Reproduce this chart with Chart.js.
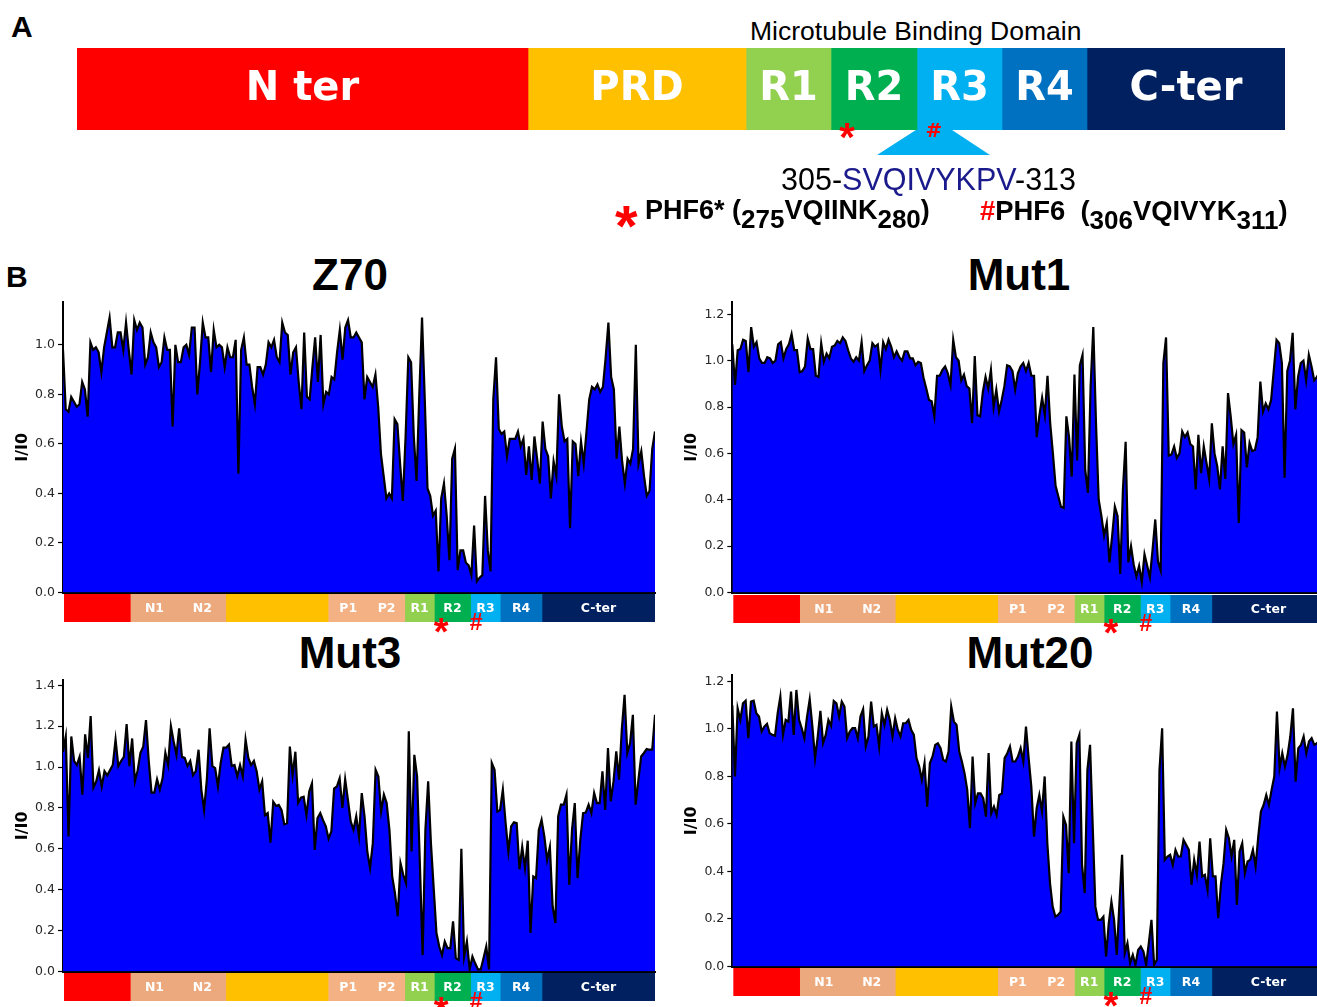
<!DOCTYPE html>
<html>
<head>
<meta charset="utf-8">
<title>Tau NMR intensity profiles</title>
<script src="https://cdn.jsdelivr.net/npm/chart.js@4.4.1/dist/chart.umd.min.js"></script>
<style>
  html, body { margin: 0; padding: 0; overflow: hidden; background: #fff; }
  #page { position: relative; width: 1317px; height: 1007px; overflow: hidden;
          font-family: "Liberation Sans", Arial, sans-serif; color: #000; }
  #page canvas { position: absolute; }
  .txt { position: absolute; white-space: nowrap; line-height: 1; }
  .panel { font-weight: bold; font-size: 30px; }
  .title { font-weight: bold; font-size: 44px; transform: translateX(-50%); }
  .sub { position: relative; top: 9px; font-size: 26px; }
</style>
</head>
<body>
<div id="page">
  <div class="txt panel" style="left:11px;top:12px">A</div>
  <div class="txt" style="left:750px;top:18px;font-size:26.5px">Microtubule Binding Domain</div>
  <canvas id="domainA" width="1208" height="125" style="left:77px;top:48px"></canvas>
  <div class="txt" style="left:781px;top:164px;font-size:30.5px">305-<span style="color:#1a1a8c">SVQIVYKPV</span>-313</div>
  <div class="txt" style="left:615px;top:197px;font-size:58px;font-weight:bold;color:#f00">*</div>
  <div class="txt" style="left:645px;top:197px;font-size:27px;font-weight:bold">PHF6* (<span class="sub">275</span>VQIINK<span class="sub">280</span>)</div>
  <div class="txt" style="left:980px;top:197px;font-size:27.4px;font-weight:bold"><span style="color:#f00">#</span>PHF6&nbsp; (<span class="sub">306</span>VQIVYK<span class="sub">311</span>)</div>

  <div class="txt panel" style="left:6px;top:262px">B</div>
  <div class="txt title" style="left:350px;top:253px">Z70</div>
  <div class="txt title" style="left:1019px;top:253px">Mut1</div>
  <div class="txt title" style="left:350px;top:631px">Mut3</div>
  <div class="txt title" style="left:1030px;top:631px">Mut20</div>

  <canvas id="z70" width="670" height="313" style="left:0px;top:290px"></canvas>
  <canvas id="z70Strip" width="670" height="44" style="left:0px;top:594px"></canvas>
  <canvas id="mut1" width="670" height="313" style="left:670px;top:290px"></canvas>
  <canvas id="mut1Strip" width="670" height="44" style="left:670px;top:595px"></canvas>
  <canvas id="mut3" width="670" height="314" style="left:0px;top:668px"></canvas>
  <canvas id="mut3Strip" width="670" height="44" style="left:0px;top:973px"></canvas>
  <canvas id="mut20" width="670" height="314" style="left:670px;top:663px"></canvas>
  <canvas id="mut20Strip" width="670" height="44" style="left:670px;top:968px"></canvas>
</div>
<script>
// ---- panel A: schematic of tau domains ----
const aDomains = ['N ter', 'PRD', 'R1', 'R2', 'R3', 'R4', 'C-ter'];
const aWidths = [451, 218, 85, 86, 85, 85, 198];
const aColors = ['#FF0000', '#FFC000', '#92D050', '#00B050', '#00B0F0', '#0070C0', '#002060'];

// ---- panel B: domain strip under each profile (residue ranges) ----
const dNames = ['', 'N1', 'N2', '', 'P1', 'P2', 'R1', 'R2', 'R3', 'R4', 'C-ter'];
const dStart = [2, 51, 87, 122, 198, 228, 255, 277, 304, 326, 357];
const dEnd = [51, 87, 122, 198, 228, 255, 277, 304, 326, 357, 441];
const dColors = ['#FF0000', '#EDA97E', '#EDA97E', '#FFC000', '#F4B183', '#F4B183',
                 '#92D050', '#00B050', '#00B0F0', '#0070C0', '#002060'];
const motifSymbols = ['*', '#'];
const motifResidues = [282, 308];

// ---- I/I0 profiles ----
const z70Values = [
  0.98, 0.74, 0.73, 0.79, 0.77, 0.75, 0.76, 0.85, 0.82, 0.71,
  1.01, 0.98, 0.99, 0.97, 0.89, 0.99, 1.05, 1.11, 0.99, 0.99,
  1.05, 1.05, 0.98, 1.09, 0.98, 0.88, 1.10, 1.06, 1.09, 1.07,
  0.92, 0.95, 1.05, 1.01, 0.99, 0.91, 0.93, 1.03, 0.98, 0.98,
  0.67, 1.00, 0.93, 0.93, 0.99, 1.00, 0.96, 1.07, 1.07, 0.80,
  0.93, 1.09, 1.03, 1.03, 0.89, 1.06, 0.99, 1.00, 0.99, 0.91,
  0.99, 0.95, 0.95, 1.02, 0.48, 0.98, 1.03, 0.92, 0.92, 0.83,
  0.76, 0.91, 0.91, 0.88, 0.92, 1.01, 0.99, 1.02, 0.95, 0.93,
  1.09, 1.05, 1.04, 0.88, 0.97, 0.99, 0.85, 0.74, 1.05, 0.79,
  0.78, 0.91, 1.03, 0.85, 1.04, 0.76, 0.81, 0.80, 0.87, 0.86,
  0.97, 1.06, 0.94, 1.07, 1.10, 1.03, 1.03, 1.05,
  1.03, 1.01, 0.78, 0.87, 0.85, 0.83, 0.88, 0.75, 0.56, 0.47,
  0.38, 0.40, 0.38, 0.70, 0.68, 0.52, 0.37, 0.63, 0.95, 0.93,
  0.63, 0.45, 0.80, 1.11, 0.78, 0.42, 0.39, 0.31, 0.33, 0.085,
  0.38, 0.44, 0.31, 0.13, 0.54, 0.58, 0.09, 0.17, 0.17, 0.12,
  0.11, 0.07, 0.27, 0.045, 0.06, 0.07, 0.39, 0.17, 0.085, 0.78,
  0.95, 0.66, 0.64, 0.65, 0.55, 0.62, 0.62, 0.62, 0.65, 0.59,
  0.62, 0.475, 0.59, 0.455, 0.63, 0.54, 0.44, 0.69, 0.58, 0.55,
  0.38, 0.53, 0.47, 0.80, 0.67, 0.61, 0.62, 0.26, 0.61, 0.60,
  0.47, 0.61, 0.52, 0.65, 0.78, 0.83, 0.82, 0.84, 0.81, 0.83,
  0.95, 1.09, 0.87, 0.82, 0.54, 0.67, 0.53, 0.44, 0.54, 0.52,
  0.58, 1.00, 0.52, 0.57, 0.47, 0.39, 0.41, 0.58, 0.65
];

const mut1Values = [
  1.07, 0.895, 1.045, 1.05, 1.09, 1.085, 0.95, 1.145, 1.06, 1.08,
  1.01, 0.99, 0.99, 1.015, 1.01, 0.99, 1.0, 1.07, 1.08, 1.01,
  1.05, 1.07, 1.115, 1.045, 1.045, 0.95, 0.955, 0.975, 1.095, 1.05,
  1.05, 0.935, 0.93, 1.075, 0.995, 1.03, 1.01, 1.06, 1.065, 1.085,
  1.075, 1.10, 1.085, 1.045, 1.01, 0.995, 1.015, 1.0, 1.08, 0.955,
  0.98, 1.0, 1.075, 1.06, 1.07, 0.96, 1.08, 1.05, 1.09, 1.06,
  1.015, 1.04, 1.015, 1.0, 1.04, 1.04, 1.01, 1.01, 0.98, 0.995,
  0.99, 0.925, 0.88, 0.83, 0.825, 0.76, 0.935, 0.935, 0.96, 0.975,
  0.945, 0.895, 1.09, 1.015, 1.0, 0.915, 0.94, 0.89, 0.88, 0.73,
  1.02, 0.765, 0.76, 0.865, 0.93, 0.88, 0.96, 0.80, 0.875, 0.78,
  0.83, 0.89, 0.98, 0.975,
  0.955, 0.875, 0.945, 0.975, 0.99, 0.955, 0.99, 0.935, 0.935, 0.67,
  0.765, 0.84, 0.765, 0.935, 0.73, 0.60, 0.46, 0.415, 0.37, 0.365,
  0.76, 0.67, 0.50, 0.94, 0.57, 0.98, 1.025, 0.53, 0.43, 0.89,
  1.145, 0.73, 0.40, 0.33, 0.245, 0.30, 0.13, 0.245, 0.37, 0.33,
  0.08, 0.445, 0.65, 0.13, 0.20, 0.12, 0.07, 0.115, 0.045, 0.165,
  0.115, 0.065, 0.185, 0.315, 0.135, 0.095, 0.99, 1.10, 0.59, 0.595,
  0.63, 0.58, 0.60, 0.695, 0.67, 0.69, 0.64, 0.63, 0.445, 0.68,
  0.515, 0.63, 0.56, 0.49, 0.73, 0.60, 0.545, 0.445, 0.63, 0.49,
  0.86, 0.76, 0.64, 0.68, 0.30, 0.70, 0.69, 0.54, 0.645, 0.61,
  0.615, 0.67, 0.91, 0.78, 0.815, 0.79, 0.83, 0.96, 1.09, 1.075,
  0.99, 0.495, 0.955, 1.0, 1.12, 0.79, 0.93, 0.99, 1.0, 0.915,
  1.025, 0.975, 0.915, 0.93, 0.95, 0.97, 0.94
];

const mut3Values = [
  1.075, 1.15, 0.66, 1.15, 1.03, 1.01, 1.05, 0.865, 1.16, 1.045,
  1.25, 0.90, 0.93, 0.985, 0.905, 0.98, 0.96, 0.985, 1.01, 1.135,
  1.005, 1.03, 1.05, 1.21, 1.005, 1.14, 0.93, 0.985, 1.07, 1.10,
  1.23, 1.03, 0.875, 0.875, 0.94, 0.89, 0.945, 1.07, 1.01, 1.20,
  1.125, 1.06, 1.19, 1.05, 1.045, 1.005, 1.03, 0.96, 0.98, 1.085,
  0.89, 0.79, 0.94, 1.19, 1.005, 0.995, 0.905, 1.02, 1.095, 1.095,
  1.11, 1.005, 1.01, 0.955, 1.01, 0.955, 1.135, 1.045, 1.01, 1.03,
  0.98, 0.89, 0.93, 0.765, 0.775, 0.63, 0.83, 0.81, 0.815, 0.79,
  0.72, 0.725, 1.10, 0.96, 1.075, 0.825, 0.85, 0.855, 0.765, 0.88,
  0.92, 0.595, 0.75, 0.775, 0.74, 0.71, 0.65, 0.685, 0.895, 0.905,
  0.945, 0.80, 0.94,
  0.84, 0.734, 0.693, 0.759, 0.661, 0.873, 0.759, 0.587, 0.506, 0.628,
  0.987, 0.954, 0.783, 0.865, 0.824, 0.693, 0.465, 0.383, 0.27, 0.53,
  0.473, 0.432, 1.175, 0.587, 1.06, 0.954, 0.53, 0.08, 0.693, 0.93,
  0.628, 0.408, 0.188, 0.122, 0.08, 0.147, 0.114, 0.114, 0.245, 0.065,
  0.057, 0.60, 0.073, 0.147, 0.01, 0.073, 0.04, 0.01, 0.01, 0.065,
  0.122, 0.01, 1.02, 0.987, 0.783, 0.79, 0.89, 0.726, 0.587, 0.71,
  0.73, 0.726, 0.50, 0.61, 0.506, 0.64, 0.188, 0.465, 0.457, 0.693,
  0.742, 0.661, 0.546, 0.61, 0.318, 0.237, 0.759, 0.816, 0.816, 0.865,
  0.424, 0.693, 0.824, 0.457, 0.644, 0.775, 0.778, 0.816, 0.775, 0.873,
  0.824, 0.824, 0.979, 0.79, 1.093, 0.832, 0.93, 1.077, 0.938, 1.183,
  1.354, 1.069, 1.117, 1.256, 0.816, 0.938, 1.052, 1.069, 1.088, 1.085,
  1.085, 1.256
];

const mut20Values = [
  1.10, 0.80, 1.087, 1.038, 1.108, 1.119, 0.961, 1.115, 1.119, 1.066,
  1.052, 0.989, 1.01, 1.021, 0.982, 0.975, 0.971, 1.066, 1.136, 0.975,
  1.038, 1.031, 1.157, 0.975, 1.164, 1.038, 1.003, 0.961, 1.052, 1.125,
  1.01, 0.877, 0.968, 1.076, 0.94, 0.975, 1.038, 1.013, 1.118, 1.108,
  1.052, 1.115, 1.094, 0.961, 0.989, 1.003, 1.003, 0.961, 1.052, 1.083,
  0.926, 0.968, 1.115, 1.01, 1.017, 0.926, 1.066, 1.017, 1.08, 1.038,
  0.968, 1.045, 0.996, 0.968, 1.024, 1.024, 1.038, 0.996, 0.975, 0.877,
  0.842, 0.785, 0.856, 0.673, 0.856, 0.884, 0.933, 0.94, 0.919, 0.87,
  0.863, 0.905, 1.094, 1.031, 1.017, 0.905, 0.863, 0.813, 0.743, 0.582,
  0.884, 0.687, 0.729, 0.729, 0.708, 0.631, 0.898, 0.645, 0.673, 0.638,
  0.722, 0.729, 0.877,
  0.898, 0.926, 0.863, 0.863, 0.884, 0.919, 0.863, 1.01, 0.877, 0.757,
  0.547, 0.666, 0.722, 0.652, 0.80, 0.519, 0.351, 0.252, 0.21, 0.217,
  0.231, 0.631, 0.596, 0.393, 0.947, 0.519, 0.94, 0.975, 0.428, 0.309,
  0.827, 0.933, 0.589, 0.252, 0.196, 0.196, 0.21, 0.042, 0.182, 0.273,
  0.196, 0.049, 0.266, 0.47, 0.056, 0.098, 0.014, 0.049, 0.007, 0.07,
  0.084, 0.063, 0.007, 0.098, 0.196, 0.007, 0.028, 0.827, 1.003, 0.449,
  0.463, 0.47, 0.428, 0.491, 0.463, 0.463, 0.533, 0.512, 0.491, 0.344,
  0.449, 0.386, 0.526, 0.379, 0.386, 0.323, 0.54, 0.379, 0.379, 0.203,
  0.344, 0.435, 0.575, 0.54, 0.463, 0.533, 0.259, 0.484, 0.519, 0.393,
  0.442, 0.449, 0.491, 0.421, 0.547, 0.652, 0.68, 0.722, 0.68, 0.743,
  0.80, 1.073, 0.835, 0.898, 0.842, 0.891, 0.968, 1.087, 0.778, 0.919,
  0.933, 0.968, 0.898, 0.947, 0.961, 0.933, 0.94, 0.95, 0.93, 0.96
];

const RES_FIRST = 1, RES_LAST = 441;

Chart.defaults.font.family = '"DejaVu Sans", sans-serif';

// white text centred in each bar segment
const segmentLabels = {
  id: 'segmentLabels',
  afterDatasetsDraw(chart, args, opts) {
    const ctx = chart.ctx;
    ctx.save();
    ctx.font = opts.font;
    ctx.fillStyle = '#fff';
    ctx.textAlign = 'center';
    ctx.textBaseline = 'alphabetic';
    chart.data.datasets.forEach((ds, i) => {
      if (!ds.label) return;
      const bar = chart.getDatasetMeta(i).data[0];
      ctx.fillText(ds.label, (bar.x + bar.base) / 2, bar.y + opts.shift);
    });
    ctx.restore();
  }
};

function drawMark(ctx, s, x, cy, font) {
  ctx.font = font;
  const m = ctx.measureText(s);
  ctx.fillText(s, x, cy + (m.actualBoundingBoxAscent - m.actualBoundingBoxDescent) / 2);
}

// red * / # under the R2 / R3 repeats in the strips
const motifMarks = {
  id: 'motifMarks',
  afterDatasetsDraw(chart) {
    const ctx = chart.ctx, xs = chart.scales.x, bottom = chart.chartArea.bottom;
    ctx.save();
    ctx.fillStyle = '#FF0000';
    ctx.textAlign = 'center';
    motifSymbols.forEach((s, i) => {
      const x = xs.getPixelForValue(motifResidues[i]);
      if (s === '*') drawMark(ctx, s, x, bottom + 3, 'bold 38px "Liberation Sans"');
      else drawMark(ctx, s, x, bottom - 0.5, 'bold 23px "Liberation Sans"');
    });
    ctx.restore();
  }
};

// triangle below R3 and motif marks of panel A
const schematicExtras = {
  id: 'schematicExtras',
  beforeDatasetsDraw(chart) {
    const ctx = chart.ctx;
    const r3 = chart.getDatasetMeta(aDomains.indexOf('R3')).data[0];
    const b = chart.chartArea.bottom;
    ctx.save();
    ctx.fillStyle = '#00B0F0';
    ctx.beginPath();
    ctx.moveTo(r3.base + 2, b - 2);
    ctx.lineTo(r3.base + 32, b - 2);
    ctx.lineTo(r3.base + 73, b + 25);
    ctx.lineTo(r3.base - 40, b + 25);
    ctx.closePath();
    ctx.fill();
    ctx.restore();
  },
  afterDatasetsDraw(chart) {
    const ctx = chart.ctx;
    const r2 = chart.getDatasetMeta(aDomains.indexOf('R2')).data[0];
    const r3 = chart.getDatasetMeta(aDomains.indexOf('R3')).data[0];
    const b = chart.chartArea.bottom;
    ctx.save();
    ctx.fillStyle = '#FF0000';
    ctx.textAlign = 'center';
    drawMark(ctx, '*', r2.base + 16, b + 1, 'bold 40px "Liberation Sans"');
    drawMark(ctx, '#', r3.base + 17, b, 'bold 20px "DejaVu Sans"');
    ctx.restore();
  }
};

new Chart(document.getElementById('domainA'), {
  type: 'bar',
  data: {
    labels: ['tau'],
    datasets: aDomains.map((name, i) => ({
      label: name,
      data: [aWidths[i]],
      backgroundColor: aColors[i],
      barPercentage: 1,
      categoryPercentage: 1
    }))
  },
  options: {
    indexAxis: 'y',
    responsive: false,
    animation: false,
    events: [],
    layout: { padding: { left: 0, right: 0, top: 0, bottom: 43 } },
    plugins: {
      legend: { display: false },
      tooltip: { enabled: false },
      segmentLabels: { font: 'bold 40px "DejaVu Sans"', shift: 11 }
    },
    scales: {
      x: { stacked: true, display: false, min: 0, max: aWidths.reduce((a, b) => a + b, 0) },
      y: { stacked: true, display: false }
    }
  },
  plugins: [segmentLabels, schematicExtras]
});

function makeStrip(id, axisWidth) {
  new Chart(document.getElementById(id), {
    type: 'bar',
    data: {
      labels: ['domains'],
      datasets: dNames.map((name, i) => ({
        label: name,
        data: [[dStart[i], dEnd[i]]],
        backgroundColor: dColors[i],
        barPercentage: 1,
        categoryPercentage: 1,
        grouped: false
      }))
    },
    options: {
      indexAxis: 'y',
      responsive: false,
      animation: false,
      events: [],
      layout: { padding: { left: axisWidth, right: 15, top: 0, bottom: 16 } },
      plugins: {
        legend: { display: false },
        tooltip: { enabled: false },
        segmentLabels: { font: 'bold 12.5px "DejaVu Sans"', shift: 3.5 }
      },
      scales: {
        x: { type: 'linear', min: RES_FIRST, max: RES_LAST, display: false },
        y: { display: false }
      }
    },
    plugins: [segmentLabels, motifMarks]
  });
}

function makeProfile(id, values, yMax, axisWidth, titlePad) {
  const step = (RES_LAST - RES_FIRST) / (values.length - 1);
  new Chart(document.getElementById(id), {
    type: 'line',
    data: {
      datasets: [{
        data: values.map((v, i) => ({ x: RES_FIRST + i * step, y: v })),
        borderColor: '#000',
        borderWidth: 2.2,
        backgroundColor: '#0000FF',
        fill: 'origin',
        pointRadius: 0,
        tension: 0
      }]
    },
    options: {
      responsive: false,
      animation: false,
      events: [],
      layout: { padding: { left: 0, right: 15, top: 12, bottom: 10 } },
      plugins: { legend: { display: false }, tooltip: { enabled: false } },
      scales: {
        x: {
          type: 'linear', min: RES_FIRST, max: RES_LAST,
          ticks: { display: false },
          grid: { display: true, drawOnChartArea: false, drawTicks: false },
          border: { display: true, color: '#000', width: 2 },
          afterFit(s) { s.height = 0; }
        },
        y: {
          min: 0, max: yMax,
          ticks: {
            stepSize: 0.2,
            includeBounds: false,
            font: { size: 12.5 },
            color: '#262626',
            padding: 3,
            callback: v => v.toFixed(1)
          },
          afterBuildTicks(s) {
            s.ticks = s.ticks.filter(t => Math.abs(t.value * 5 - Math.round(t.value * 5)) < 1e-6);
          },
          grid: { drawOnChartArea: false, drawTicks: true, tickLength: 5, color: '#000', tickWidth: 1.2 },
          border: { display: true, color: '#000', width: 2 },
          title: {
            display: true, text: 'I/I0', color: '#000',
            font: { size: 16, weight: 'bold' },
            padding: { top: titlePad, bottom: 0 }
          },
          afterFit(s) { s.width = axisWidth; }
        }
      }
    }
  });
}

makeProfile('z70', z70Values, 1.173, 63, 13);
makeStrip('z70Strip', 63);
makeProfile('mut1', mut1Values, 1.253, 62.3, 12);
makeStrip('mut1Strip', 62.3);
makeProfile('mut3', mut3Values, 1.426, 63, 13);
makeStrip('mut3Strip', 63);
makeProfile('mut20', mut20Values, 1.227, 62.3, 12);
makeStrip('mut20Strip', 62.3);
</script>
</body>
</html>
